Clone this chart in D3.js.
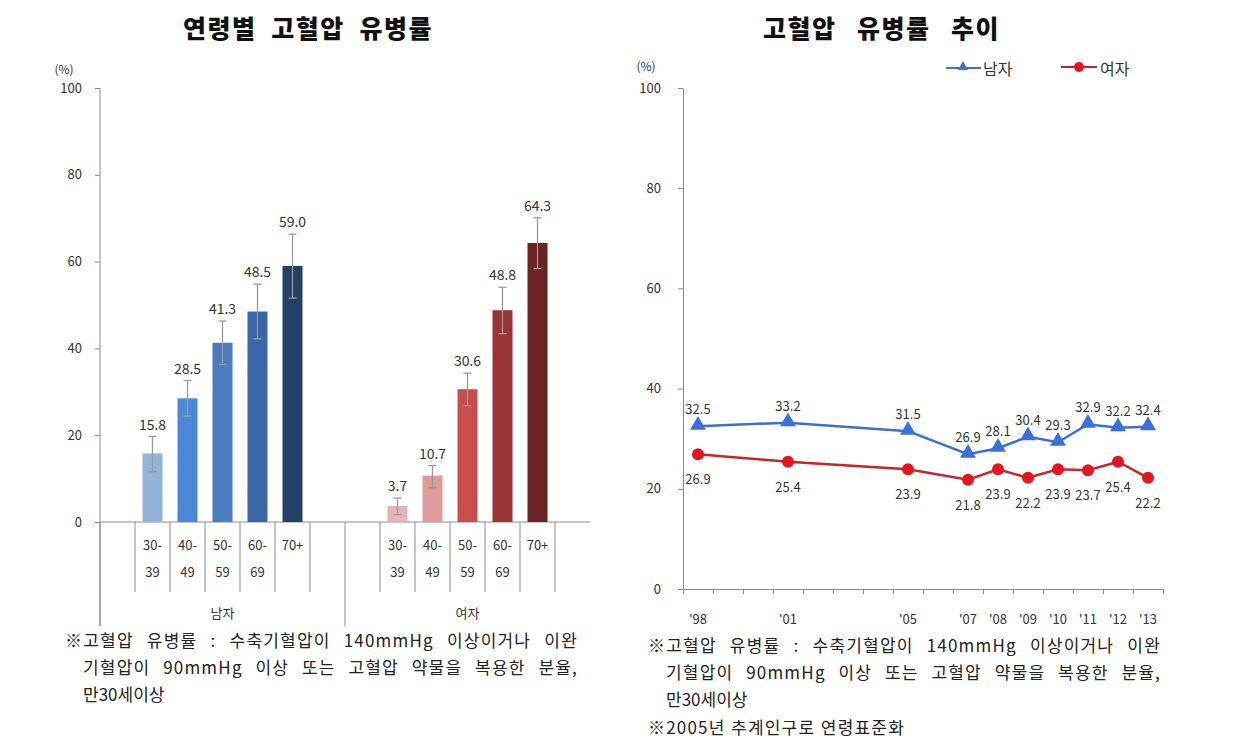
<!DOCTYPE html>
<html><head><meta charset="utf-8">
<script src="https://cdn.jsdelivr.net/npm/d3@7/dist/d3.min.js"></script>
<style>
body{margin:0;background:#fff;}
text{font-family:"Noto Sans CJK KR","Noto Sans",sans-serif;}
</style></head>
<body><svg id="c" width="1238" height="748"></svg>
<script>
// ---------- data ----------
const groups = ["남자", "여자"];
const ages = ["30-39", "40-49", "50-59", "60-69", "70+"];
const ageTickLines = [["30-", "39"], ["40-", "49"], ["50-", "59"], ["60-", "69"], ["70+"]];
const menByAge = [15.8, 28.5, 41.3, 48.5, 59.0];
const menLow = [11.6, 24.4, 36.3, 42.2, 51.6];
const menHigh = [19.7, 32.6, 46.3, 54.8, 66.3];
const womenByAge = [3.7, 10.7, 30.6, 48.8, 64.3];
const womenLow = [1.7, 7.9, 26.8, 43.4, 58.4];
const womenHigh = [5.5, 13.0, 34.3, 54.1, 70.1];
const menColors = ["#93b3da", "#4d88d6", "#4a7dc0", "#3a66a5", "#263f66"];
const womenColors = ["#e6b4b4", "#df9b9b", "#c94d4d", "#9d3434", "#6c2323"];
const yTicks = [0, 20, 40, 60, 80, 100];

const years = [1998, 2001, 2005, 2007, 2008, 2009, 2010, 2011, 2012, 2013];
const yearLabels = ["'98", "'01", "'05", "'07", "'08", "'09", "'10", "'11", "'12", "'13"];
const menTrend = [32.5, 33.2, 31.5, 26.9, 28.1, 30.4, 29.3, 32.9, 32.2, 32.4];
const womenTrend = [26.9, 25.4, 23.9, 21.8, 23.9, 22.2, 23.9, 23.7, 25.4, 22.2];
const yearRange = [1998, 2013];

const titleLeft = "연령별 고혈압 유병률";
const titleRight = "고혈압 유병률 추이";
const noteLines = ["※고혈압 유병률 : 수축기혈압이 140mmHg 이상이거나 이완",
  "기혈압이 90mmHg 이상 또는 고혈압 약물을 복용한 분율,",
  "만30세이상"];
const noteExtra = "※2005년 추계인구로 연령표준화";

// ---------- drawing ----------
const svg = d3.select("#c");
const axisColor = "#8a8a8a";
const txt = "#333";

// fit a text to a target width: some letter spacing, rest as word spacing
function fitWords(sel, target, ls) {
  sel.attr("letter-spacing", ls);
  const n = (sel.text().match(/ /g) || []).length;
  const w = sel.node().getComputedTextLength();
  if (n > 0) sel.attr("word-spacing", Math.max(0, (target - w) / n));
  return sel;
}

// ===== Left chart =====
const yL = d3.scaleLinear().domain([0, 100]).range([522, 88]);
const gx = d3.scaleBand().domain(groups).range([100, 590]);
const ax = d3.scaleBand().domain(ages).range([0, gx.bandwidth()]).paddingInner(0).paddingOuter(1);
const barW = 20;

fitWords(svg.append("text").attr("x", 183).attr("y", 38)
  .attr("font-size", 25).attr("font-weight", 900).attr("fill", "#111").text(titleLeft), 250, 1.5);

const gyL = svg.append("g").attr("transform", "translate(100,0)")
  .call(d3.axisLeft(yL).tickValues(yTicks).tickSize(5).tickPadding(13).tickSizeOuter(0));
gyL.select(".domain").remove();
gyL.selectAll("line").attr("stroke", axisColor);
gyL.selectAll("text").attr("font-size", 13).attr("fill", txt).attr("font-family", "'Open Sans',sans-serif");
svg.append("line").attr("x1", 100).attr("x2", 100).attr("y1", yL(100)).attr("y2", 626).attr("stroke", axisColor);
svg.append("text").attr("x", 64).attr("y", 74).attr("text-anchor", "middle").attr("font-size", 12).attr("fill", txt)
  .attr("font-family", "'Open Sans',sans-serif").text("(%)");

svg.append("line").attr("x1", 100).attr("x2", 590).attr("y1", yL(0)).attr("y2", yL(0)).attr("stroke", axisColor);

const seriesL = [
  {g: groups[0], v: menByAge, lo: menLow, hi: menHigh, c: menColors},
  {g: groups[1], v: womenByAge, lo: womenLow, hi: womenHigh, c: womenColors}
];
seriesL.forEach(s => {
  const x0 = gx(s.g);
  svg.append("line").attr("x1", x0).attr("x2", x0).attr("y1", yL(0)).attr("y2", 626).attr("stroke", axisColor);
  for (let i = 0; i <= ages.length; i++) {
    const xs = x0 + ax.step() * (i + 1);
    svg.append("line").attr("x1", xs).attr("x2", xs).attr("y1", yL(0)).attr("y2", 592).attr("stroke", axisColor);
  }
  ages.forEach((a, i) => {
    const cx = x0 + ax(a) + ax.bandwidth() / 2;
    svg.append("rect").attr("x", cx - barW / 2).attr("width", barW)
      .attr("y", yL(s.v[i])).attr("height", yL(0) - yL(s.v[i])).attr("fill", s.c[i]);
    const eb = svg.append("g").attr("stroke", "#9a9a9a").attr("stroke-width", 1.3);
    eb.append("line").attr("x1", cx).attr("x2", cx).attr("y1", yL(s.hi[i])).attr("y2", yL(s.lo[i]));
    eb.append("line").attr("x1", cx - 4).attr("x2", cx + 4).attr("y1", yL(s.hi[i])).attr("y2", yL(s.hi[i]));
    eb.append("line").attr("x1", cx - 4).attr("x2", cx + 4).attr("y1", yL(s.lo[i])).attr("y2", yL(s.lo[i]));
    svg.append("text").attr("x", cx).attr("y", yL(s.hi[i]) - 7).attr("text-anchor", "middle")
      .attr("font-size", 14).attr("fill", txt).attr("font-family", "'Open Sans',sans-serif").text(s.v[i].toFixed(1));
    ageTickLines[i].forEach((ln, k) => {
      svg.append("text").attr("x", cx).attr("y", 550 + k * 27).attr("text-anchor", "middle")
        .attr("font-size", 13).attr("fill", txt).attr("font-family", "'Open Sans',sans-serif").text(ln);
    });
  });
  svg.append("text").attr("x", x0 + gx.bandwidth() / 2).attr("y", 618).attr("text-anchor", "middle")
    .attr("font-size", 13).attr("fill", txt).text(s.g);
});

// footnotes
function notes(x, y0, withExtra) {
  const widths = [513, 495, null];
  noteLines.forEach((ln, i) => {
    const t = svg.append("text").attr("x", i === 0 ? x : x + 18).attr("y", y0 + i * 27)
      .attr("font-size", 17).attr("fill", "#222").text(ln);
    if (widths[i]) fitWords(t, widths[i], 1.2);
  });
  if (withExtra) {
    fitWords(svg.append("text").attr("x", x).attr("y", y0 + 3 * 27 + 1).attr("font-size", 17)
      .attr("fill", "#222").text(noteExtra), 257, 1.2);
  }
}
notes(65, 647, false);

// ===== Right chart =====
const yR = d3.scaleLinear().domain([0, 100]).range([589, 88]);
const xR = d3.scaleLinear().domain([yearRange[0] - 0.5, yearRange[1] + 0.5]).range([683, 1163]);

fitWords(svg.append("text").attr("x", 763).attr("y", 38)
  .attr("font-size", 25).attr("font-weight", 900).attr("fill", "#111").text(titleRight), 237, 1.5);

const gyR = svg.append("g").attr("transform", "translate(683,0)")
  .call(d3.axisLeft(yR).tickValues(yTicks).tickSize(5).tickPadding(17).tickSizeOuter(0));
gyR.select(".domain").attr("stroke", axisColor);
gyR.selectAll("line").attr("stroke", axisColor);
gyR.selectAll("text").attr("font-size", 13).attr("fill", txt).attr("font-family", "'Open Sans',sans-serif");
svg.append("text").attr("x", 646).attr("y", 71).attr("text-anchor", "middle").attr("font-size", 12).attr("fill", txt)
  .attr("font-family", "'Open Sans',sans-serif").text("(%)");

const boundaries = d3.range(yearRange[0] - 0.5, yearRange[1] + 1, 1);
const gxR = svg.append("g").attr("transform", "translate(0,589)")
  .call(d3.axisBottom(xR).tickValues(boundaries).tickSize(5).tickFormat(""));
gxR.select(".domain").attr("stroke", axisColor);
gxR.selectAll("line").attr("stroke", axisColor);
years.forEach((y, i) => {
  svg.append("text").attr("x", xR(y)).attr("y", 624).attr("text-anchor", "middle")
    .attr("font-size", 13).attr("fill", txt).attr("font-family", "'Open Sans',sans-serif").text(yearLabels[i]);
});

const lineGen = d3.line().x((d, i) => xR(years[i])).y(d => yR(d));
const menColor = "#3b6fd6";
svg.append("path").datum(womenTrend).attr("d", lineGen).attr("fill", "none").attr("stroke", "#c8242a").attr("stroke-width", 2.5);
svg.append("path").datum(menTrend).attr("d", lineGen).attr("fill", "none").attr("stroke", menColor).attr("stroke-width", 2.5);
const tri = d3.symbol().type(d3.symbolTriangle).size(110);
menTrend.forEach((v, i) => {
  svg.append("path").attr("d", tri).attr("transform", `translate(${xR(years[i])},${yR(v) - 1})`).attr("fill", "#3a6fe2");
  svg.append("text").attr("x", xR(years[i])).attr("y", yR(v) - 12).attr("text-anchor", "middle")
    .attr("font-size", 13).attr("fill", txt).attr("font-family", "'Open Sans',sans-serif").text(v.toFixed(1));
});
womenTrend.forEach((v, i) => {
  svg.append("circle").attr("cx", xR(years[i])).attr("cy", yR(v)).attr("r", 6).attr("fill", "#e5141e");
  svg.append("text").attr("x", xR(years[i])).attr("y", yR(v) + 30).attr("text-anchor", "middle")
    .attr("font-size", 13).attr("fill", txt).attr("font-family", "'Open Sans',sans-serif").text(v.toFixed(1));
});

// legend
const lg = svg.append("g");
lg.append("line").attr("x1", 946).attr("x2", 981).attr("y1", 68).attr("y2", 68).attr("stroke", menColor).attr("stroke-width", 2);
lg.append("path").attr("d", d3.symbol().type(d3.symbolTriangle).size(45)).attr("transform", "translate(963,67)").attr("fill", "#3a6fe2");
lg.append("text").attr("x", 983).attr("y", 75).attr("font-size", 16).attr("fill", txt).text(groups[0]);
lg.append("line").attr("x1", 1061).attr("x2", 1097).attr("y1", 67).attr("y2", 67).attr("stroke", "#c8242a").attr("stroke-width", 2);
lg.append("circle").attr("cx", 1079).attr("cy", 67).attr("r", 5).attr("fill", "#e5141e");
lg.append("text").attr("x", 1100).attr("y", 75).attr("font-size", 16).attr("fill", txt).text(groups[1]);

notes(648, 652, true);
</script></body></html>
